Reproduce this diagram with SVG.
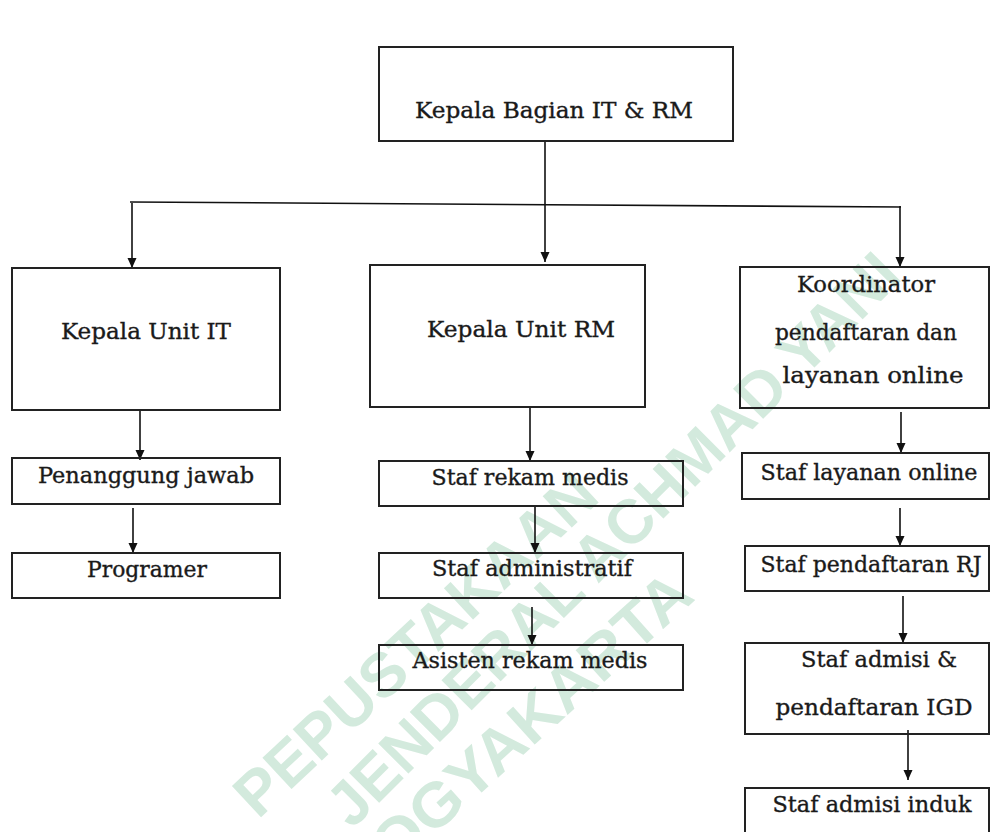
<svg xmlns="http://www.w3.org/2000/svg" width="990" height="832" viewBox="0 0 990 832">
<defs>
<marker id="arr" markerUnits="userSpaceOnUse" markerWidth="10" markerHeight="10" refX="10" refY="4.5" orient="auto">
<path d="M0,0 L10,4.5 L0,9 z" fill="#111"/>
</marker>
<style>
.box{fill:none;stroke:#222;stroke-width:2}
.t{font-family:"DejaVu Serif","Liberation Serif",serif;font-size:22px;fill:#1a1a1a;stroke:#1a1a1a;stroke-width:0.35;text-anchor:middle}
.c{stroke:#111;stroke-width:1.6;fill:none}
.a{marker-end:url(#arr)}
.wm{font-family:"Liberation Sans","DejaVu Sans",sans-serif;font-weight:bold;font-size:62px;fill:#d3eadd}
</style>
</defs>
<rect width="990" height="832" fill="#fff"/>
<g id="watermark">
<text class="wm" transform="translate(258,820) rotate(-43)" textLength="470" lengthAdjust="spacingAndGlyphs">PEPUSTAKAAN</text>
<text class="wm" transform="translate(352,830) rotate(-45)" textLength="780" lengthAdjust="spacingAndGlyphs">JENDERAL ACHMAD YANI</text>
<text class="wm" transform="translate(362,900) rotate(-42)" textLength="450" lengthAdjust="spacingAndGlyphs">YOGYAKARTA</text>
</g>
<g id="connectors">
<line class="c a" x1="545" y1="141" x2="545" y2="262"/>
<line class="c" x1="130" y1="202" x2="901" y2="207"/>
<line class="c a" x1="132" y1="203" x2="132" y2="268"/>
<line class="c a" x1="900" y1="206" x2="900" y2="267"/>
<line class="c a" x1="140" y1="410" x2="140" y2="460"/>
<line class="c a" x1="133" y1="508" x2="133" y2="553"/>
<line class="c a" x1="530" y1="407" x2="530" y2="461"/>
<line class="c a" x1="535" y1="506" x2="535" y2="553"/>
<line class="c a" x1="532" y1="607" x2="532" y2="645"/>
<line class="c a" x1="901" y1="412" x2="901" y2="453"/>
<line class="c a" x1="900" y1="508" x2="900" y2="546"/>
<line class="c a" x1="903" y1="596" x2="903" y2="643"/>
<line class="c a" x1="908" y1="730" x2="908" y2="780"/>
</g>
<g id="kepala-bagian">
<rect class="box" x="379" y="47" width="354" height="94"/>
<text class="t" x="554" y="118" textLength="278" lengthAdjust="spacingAndGlyphs">Kepala Bagian IT &amp; RM</text>
</g>
<g id="kepala-unit-it">
<rect class="box" x="12" y="268" width="268" height="142"/>
<text class="t" x="146" y="339" textLength="170" lengthAdjust="spacingAndGlyphs">Kepala Unit IT</text>
</g>
<g id="kepala-unit-rm">
<rect class="box" x="370" y="265" width="275" height="142"/>
<text class="t" x="521" y="337" textLength="188" lengthAdjust="spacingAndGlyphs">Kepala Unit RM</text>
</g>
<g id="koordinator">
<rect class="box" x="740" y="267" width="249" height="141"/>
<text class="t" x="866" y="292" textLength="138" lengthAdjust="spacingAndGlyphs">Koordinator</text>
<text class="t" x="866" y="340" textLength="182" lengthAdjust="spacingAndGlyphs">pendaftaran dan</text>
<text class="t" x="873" y="383" textLength="181" lengthAdjust="spacingAndGlyphs">layanan online</text>
</g>
<g id="penanggung-jawab">
<rect class="box" x="12" y="458" width="268" height="46"/>
<text class="t" x="146" y="483" textLength="216" lengthAdjust="spacingAndGlyphs">Penanggung jawab</text>
</g>
<g id="programer">
<rect class="box" x="12" y="553" width="268" height="45"/>
<text class="t" x="147" y="577" textLength="120" lengthAdjust="spacingAndGlyphs">Programer</text>
</g>
<g id="staf-rekam-medis">
<rect class="box" x="379" y="461" width="304" height="45"/>
<text class="t" x="530" y="485" textLength="197" lengthAdjust="spacingAndGlyphs">Staf rekam medis</text>
</g>
<g id="staf-administratif">
<rect class="box" x="379" y="553" width="304" height="45"/>
<text class="t" x="532" y="576" textLength="200" lengthAdjust="spacingAndGlyphs">Staf administratif</text>
</g>
<g id="asisten-rekam-medis">
<rect class="box" x="379" y="645" width="304" height="45"/>
<text class="t" x="530" y="668" textLength="235" lengthAdjust="spacingAndGlyphs">Asisten rekam medis</text>
</g>
<g id="staf-layanan-online">
<rect class="box" x="742" y="453" width="247" height="46"/>
<text class="t" x="869" y="480" textLength="217" lengthAdjust="spacingAndGlyphs">Staf layanan online</text>
</g>
<g id="staf-pendaftaran-rj">
<rect class="box" x="745" y="546" width="244" height="45"/>
<text class="t" x="871" y="572" textLength="221" lengthAdjust="spacingAndGlyphs">Staf pendaftaran RJ</text>
</g>
<g id="staf-admisi-igd">
<rect class="box" x="745" y="643" width="244" height="91"/>
<text class="t" x="879" y="667" textLength="156" lengthAdjust="spacingAndGlyphs">Staf admisi &amp;</text>
<text class="t" x="874" y="715" textLength="197" lengthAdjust="spacingAndGlyphs">pendaftaran IGD</text>
</g>
<g id="staf-admisi-induk">
<rect class="box" x="745" y="788" width="244" height="60"/>
<text class="t" x="872" y="812" textLength="199" lengthAdjust="spacingAndGlyphs">Staf admisi induk</text>
</g>
</svg>
